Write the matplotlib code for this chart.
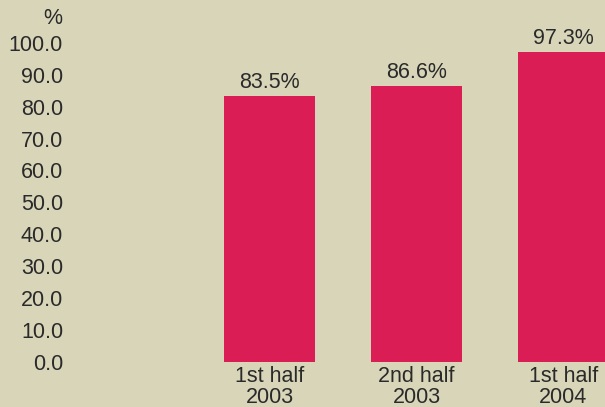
import matplotlib.pyplot as plt

categories = ["1st half\n2003", "2nd half\n2003", "1st half\n2004"]
values = [83.5, 86.6, 97.3]
yticks = [0, 10, 20, 30, 40, 50, 60, 70, 80, 90, 100]

bg = "#d8d5b8"
bar_color = "#db1d55"
txt = "#2a2a2a"

plt.rcParams["font.family"] = ["Liberation Sans", "DejaVu Sans"]
fs = 15.5

W, H = 605, 407
fig = plt.figure(figsize=(W / 100, H / 100), dpi=100, facecolor=bg)
# axes in pixel coords: left 70, right 605, bottom 45.5 (from bottom), top at y=43 from top
ax = fig.add_axes([70 / W, 45.5 / H, (605 - 70) / W, (364 - 45.5) / H])
ax.set_facecolor(bg)

x = [1, 2, 3]
ax.bar(x, values, width=0.62, color=bar_color)
ax.set_xlim(1 - 199.5 / 147, 1 + (605 - 269.5) / 147)
ax.set_ylim(0, 100)

for xi, v in zip(x, values):
    ax.text(xi, v + 0.8, f"{v:.1f}%", ha="center", va="bottom", fontsize=fs, color=txt, clip_on=False)

ax.set_yticks(yticks)
ax.set_yticklabels([f"{t:.1f}" for t in yticks], fontsize=fs, color=txt)
ax.set_xticks(x)
ax.set_xticklabels(categories, fontsize=fs, color=txt, linespacing=1.05)
ax.tick_params(axis="both", length=0)
ax.tick_params(axis="y", pad=5)
ax.tick_params(axis="x", pad=3)
for s in ax.spines.values():
    s.set_visible(False)

fig.text(53 / W, 1 - 18 / H, "%", ha="center", va="center", fontsize=fs, color=txt)

fig.savefig("out.png", dpi=100, facecolor=bg)
